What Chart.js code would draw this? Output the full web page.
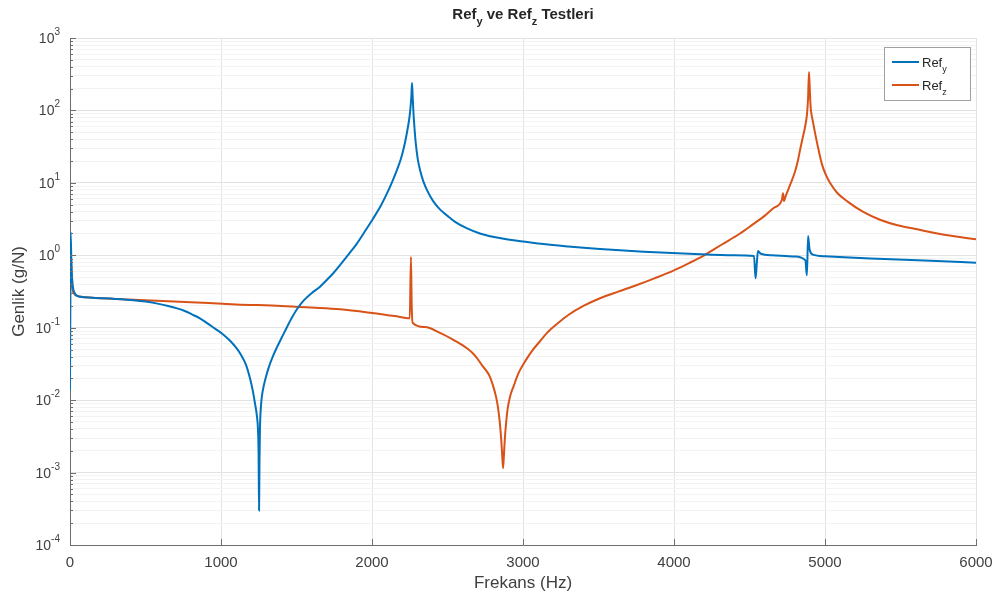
<!DOCTYPE html>
<html lang="tr">
<head>
  <meta charset="UTF-8">
  <title>Refy ve Refz Testleri</title>
  <script src="https://cdn.jsdelivr.net/npm/chart.js"></script>
  <style>
    body { margin: 0; background: #fff; }
    canvas { display: block; }
  </style>
</head>
<body>
  <canvas id="frfChart" width="996" height="601"></canvas>

  <script>
    // Ref_y olcumu (Hz, g/N)
    const refYFreq = [0, 4, 10, 25, 60, 150, 300, 420, 500, 580, 650, 710, 760, 810, 860, 910, 960, 1010, 1060, 1100, 1130, 1165, 1192, 1212, 1225, 1237, 1245, 1249, 1252, 1255, 1258, 1265, 1278, 1298, 1320, 1345, 1371, 1405, 1440, 1470, 1503, 1550, 1600, 1650, 1702, 1745, 1788, 1840, 1900, 1950, 2007, 2060, 2100, 2135, 2165, 2190, 2210, 2225, 2238, 2248, 2255, 2261, 2265, 2269, 2275, 2282, 2290, 2302, 2318, 2340, 2370, 2405, 2450, 2500, 2550, 2630, 2715, 2800, 2900, 3000, 3100, 3300, 3510, 3800, 4100, 4400, 4530, 4540, 4548, 4556, 4575, 4650, 4800, 4870, 4880, 4888, 4898, 4920, 5000, 5300, 5700, 6000];
    const refYAmp = [0.014, 2.1, 0.7, 0.32, 0.27, 0.26, 0.25, 0.24, 0.23, 0.215, 0.2, 0.185, 0.17, 0.152, 0.135, 0.115, 0.097, 0.082, 0.066, 0.053, 0.043, 0.031, 0.02, 0.013, 0.009, 0.0062, 0.0039, 0.0018, 0.0003, 0.0015, 0.004, 0.0085, 0.014, 0.021, 0.03, 0.041, 0.054, 0.075, 0.105, 0.138, 0.18, 0.24, 0.3, 0.36, 0.46, 0.57, 0.73, 1.0, 1.45, 2.1, 3.2, 4.9, 7.2, 10.5, 15, 21, 30, 42, 59, 80, 110, 160, 240, 160, 90, 55, 35, 22, 15, 10.5, 7.5, 5.6, 4.3, 3.5, 2.9, 2.35, 2.0, 1.8, 1.65, 1.55, 1.45, 1.32, 1.22, 1.12, 1.05, 1.0, 0.98, 0.48, 0.75, 1.15, 1.05, 1.0, 0.96, 0.85, 0.53, 1.84, 1.2, 1.02, 0.97, 0.9, 0.84, 0.79];

    // Ref_z olcumu
    const refZFreq = [0, 4, 10, 25, 60, 150, 300, 500, 800, 1100, 1400, 1600, 1788, 2000, 2150, 2250, 2258, 2263, 2270, 2350, 2450, 2550, 2629, 2669, 2700, 2730, 2760, 2781, 2805, 2822, 2834, 2846, 2855, 2862, 2868, 2874, 2880, 2890, 2900, 2918, 2940, 2960, 2980, 3020, 3060, 3110, 3159, 3230, 3300, 3400, 3510, 3630, 3750, 3870, 4000, 4100, 4200, 4320, 4437, 4520, 4600, 4660, 4715, 4722, 4728, 4740, 4770, 4800, 4820, 4834, 4850, 4865, 4875, 4881, 4888, 4894, 4900, 4905, 4912, 4920, 4934, 4955, 4980, 5005, 5033, 5080, 5150, 5250, 5364, 5480, 5600, 5800, 6000];
    const refZAmp = [0.06, 1.5, 0.5, 0.3, 0.27, 0.26, 0.25, 0.24, 0.225, 0.21, 0.2, 0.19, 0.18, 0.16, 0.145, 0.135, 0.95, 0.2, 0.116, 0.102, 0.085, 0.066, 0.052, 0.044, 0.037, 0.03, 0.025, 0.021, 0.015, 0.011, 0.008, 0.005, 0.003, 0.0018, 0.00115, 0.0018, 0.003, 0.0053, 0.008, 0.012, 0.016, 0.021, 0.026, 0.036, 0.048, 0.064, 0.085, 0.115, 0.15, 0.2, 0.255, 0.315, 0.385, 0.48, 0.62, 0.78, 1.0, 1.42, 2.0, 2.65, 3.5, 4.5, 5.9, 7.2, 5.6, 6.6, 9.5, 14, 20, 28, 40, 55, 72, 90, 150, 340, 180, 110, 85, 70, 49, 30, 18, 13, 10, 7.3, 5.5, 4.0, 3.1, 2.6, 2.3, 1.9, 1.66];

    // eksen etiketleri
    const xTicks = [0, 1000, 2000, 3000, 4000, 5000, 6000];
    const yExponents = [-4, -3, -2, -1, 0, 1, 2, 3];

    const blue = '#0072BD';
    const orange = '#D95319';
    const textColor = '#404040';
    const fontFamily = '"Liberation Sans", Arial, sans-serif';

    function toPoints(xs, ys) {
      return xs.map((x, i) => ({ x: x, y: ys[i] }));
    }

    function isDecade(v) {
      const l = Math.log10(v);
      return Math.abs(l - Math.round(l)) < 1e-9;
    }

    // alt indisli metin
    function drawRich(ctx, parts, x, y, size, bold, align) {
      const weight = bold ? 'bold ' : '';
      const subSize = Math.round(size * 0.72);
      let total = 0;
      parts.forEach(p => {
        ctx.font = weight + (p.sub ? subSize : size) + 'px ' + fontFamily;
        p.w = ctx.measureText(p.t).width;
        total += p.w;
      });
      let cx = align === 'center' ? x - total / 2 : (align === 'right' ? x - total : x);
      ctx.textAlign = 'left';
      ctx.textBaseline = 'alphabetic';
      parts.forEach(p => {
        ctx.font = weight + (p.sub ? subSize : size) + 'px ' + fontFamily;
        ctx.fillText(p.t, cx, y + (p.sub ? size * 0.38 : 0));
        cx += p.w;
      });
    }

    const overlay = {
      id: 'overlay',
      afterDraw(chart) {
        const ctx = chart.ctx;
        const xs = chart.scales.x;
        const ys = chart.scales.y;
        const area = chart.chartArea;
        ctx.save();

        // iceri dogru tick isaretleri
        ctx.strokeStyle = '#6e6e6e';
        ctx.lineWidth = 1;
        ys.ticks.forEach(t => {
          const py = Math.round(ys.getPixelForValue(t.value)) + 0.5;
          const len = isDecade(t.value) ? 6 : 3;
          ctx.beginPath();
          ctx.moveTo(area.left, py);
          ctx.lineTo(area.left + len, py);
          ctx.stroke();
        });
        xTicks.forEach(v => {
          const px = Math.round(xs.getPixelForValue(v)) + 0.5;
          ctx.beginPath();
          ctx.moveTo(px, area.bottom);
          ctx.lineTo(px, area.bottom - 6);
          ctx.stroke();
        });

        // y etiketleri: 10^n
        ctx.fillStyle = textColor;
        ctx.textBaseline = 'alphabetic';
        yExponents.forEach(e => {
          const py = ys.getPixelForValue(Math.pow(10, e));
          const exp = String(e);
          ctx.font = '10px ' + fontFamily;
          const ew = ctx.measureText(exp).width;
          ctx.textAlign = 'right';
          ctx.fillText(exp, 60, py - 3);
          ctx.font = '14px ' + fontFamily;
          ctx.fillText('10', 60 - ew, py + 5);
        });

        // baslik
        ctx.fillStyle = '#262626';
        drawRich(ctx, [
          { t: 'Ref' }, { t: 'y', sub: true }, { t: ' ve Ref' }, { t: 'z', sub: true }, { t: ' Testleri' }
        ], (area.left + area.right) / 2, 19, 15, true, 'center');

        // lejant
        const lx = 884, ly = 47, lw = 86, lh = 53;
        ctx.fillStyle = '#ffffff';
        ctx.fillRect(lx, ly, lw, lh);
        ctx.strokeStyle = '#a0a0a0';
        ctx.lineWidth = 1;
        ctx.strokeRect(lx + 0.5, ly + 0.5, lw, lh);
        const rows = [
          { c: blue, sub: 'y', y: ly + 15 },
          { c: orange, sub: 'z', y: ly + 38 }
        ];
        rows.forEach(r => {
          ctx.strokeStyle = r.c;
          ctx.lineWidth = 2;
          ctx.beginPath();
          ctx.moveTo(lx + 8, r.y);
          ctx.lineTo(lx + 35, r.y);
          ctx.stroke();
          ctx.fillStyle = '#262626';
          drawRich(ctx, [{ t: 'Ref' }, { t: r.sub, sub: true }], lx + 38, r.y + 5, 13, false, 'left');
        });
        ctx.restore();
      }
    };

    const ctx = document.getElementById('frfChart').getContext('2d');
    const chart = new Chart(ctx, {
      type: 'line',
      data: {
        datasets: [{
          label: 'Ref_y',
          data: toPoints(refYFreq, refYAmp),
          borderColor: blue,
          borderWidth: 2,
          pointRadius: 0,
          cubicInterpolationMode: 'monotone'
        }, {
          label: 'Ref_z',
          data: toPoints(refZFreq, refZAmp),
          borderColor: orange,
          borderWidth: 2,
          pointRadius: 0,
          cubicInterpolationMode: 'monotone'
        }]
      },
      options: {
        responsive: false,
        animation: false,
        layout: { padding: { top: 38, right: 20, left: 0, bottom: 0 } },
        plugins: {
          legend: { display: false },
          title: { display: false },
          tooltip: { enabled: false }
        },
        scales: {
          x: {
            type: 'linear',
            min: 0,
            max: 6000,
            afterBuildTicks: s => { s.ticks = xTicks.map(v => ({ value: v })); },
            afterFit: s => { s.height = 56; s.paddingRight = 0; s.paddingLeft = 0; },
            ticks: {
              padding: 9,
              color: textColor,
              font: { family: fontFamily, size: 15 },
              maxRotation: 0,
              callback: v => String(v)
            },
            grid: { color: '#e3e3e3', drawTicks: false },
            border: { color: '#6e6e6e' },
            title: {
              display: true,
              text: 'Frekans (Hz)',
              color: textColor,
              font: { family: fontFamily, size: 17 },
              padding: { top: 0, bottom: 7 }
            }
          },
          y: {
            type: 'logarithmic',
            min: 1e-4,
            max: 1e3,
            afterBuildTicks: s => {
              const t = [];
              yExponents.forEach(e => {
                if (e === yExponents[yExponents.length - 1]) {
                  t.push({ value: Math.pow(10, e) });
                  return;
                }
                for (let m = 1; m <= 9; m++) {
                  t.push({ value: m * Math.pow(10, e) });
                }
              });
              s.ticks = t;
            },
            afterFit: s => { s.width = 70; },
            ticks: { callback: () => '', autoSkip: false },
            grid: {
              drawTicks: false,
              color: c => (c.tick && isDecade(c.tick.value)) ? '#e3e3e3' : '#f3f3f3'
            },
            border: { color: '#6e6e6e' },
            title: {
              display: true,
              text: 'Genlik (g/N)',
              color: textColor,
              font: { family: fontFamily, size: 17 },
              padding: { top: 9, bottom: 0 }
            }
          }
        }
      },
      plugins: [overlay]
    });
  </script>
</body>
</html>
